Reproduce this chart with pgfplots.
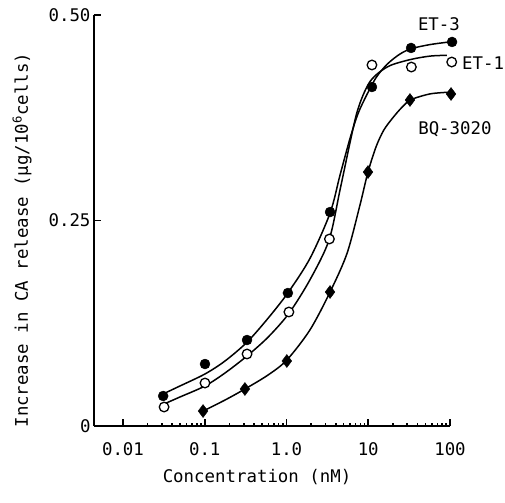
\documentclass[border=0pt]{standalone}
\usepackage{fontspec}
\setmainfont{DejaVu Sans Mono}
\usepackage{pgfplots}
\pgfplotsset{compat=1.18}
\newcommand\cf{\fontsize{17.4bp}{20bp}\selectfont}
\begin{document}
\begin{tikzpicture}[font=\cf]
\begin{axis}[
  at={(0,0)}, anchor=south west,
  scale only axis, width=356bp, height=411bp,
  xmode=log, xmin=0.004418, xmax=100, ymin=0, ymax=0.5,
  axis x line=bottom, axis y line=left,
  axis line style={-, line width=1.8bp},
  every tick/.style={black, line width=1.6bp},
  tick align=inside, major tick length=7bp,
  xtick={0.01,0.1,1,10,100}, xticklabels={0.01,0.1,1.0,10,100},
  minor xtick={}, minor ytick={},
  ytick={0,0.25,0.5}, yticklabels={0,0.25,0.50},
  tick label style={font=\cf},
  xticklabel style={yshift=-13bp},
  label style={font=\cf},
  xlabel={Concentration (nM)},
  ylabel={Increase in CA release (μg/10\textsuperscript{6}cells)},
  xlabel style={at={(axis description cs:0.458,-0.125)}, anchor=center},
  ylabel style={at={(axis description cs:-0.202,0.452)}, anchor=center},
  clip=false,
]
% fitted curves (traced)
\addplot[black, line width=1.5bp, smooth, mark=none] coordinates {
(0.0308,0.0389) (0.0498,0.0487) (0.1007,0.0633) (0.177,0.0791) (0.329,0.102)
(0.594,0.131) (1.04,0.162) (1.94,0.204) (3.41,0.259) (4.51,0.305) (5.99,0.350)
(7.5,0.380) (9.5,0.402) (12.5,0.424) (17,0.440) (24,0.452) (33.4,0.459) (56.9,0.464) (94.6,0.467)};
\addplot[black, line width=1.5bp, smooth, mark=none] coordinates {
(0.0318,0.0268) (0.0498,0.0353) (0.1007,0.0487) (0.177,0.0645) (0.329,0.0852)
(0.594,0.108) (1.07,0.137) (1.94,0.178) (3.31,0.226) (4.51,0.287) (5.99,0.345)
(7.2,0.380) (8.6,0.402) (10.5,0.419) (13.5,0.430) (19,0.439) (33.4,0.446) (56.9,0.450) (91.8,0.451)};
\addplot[black, line width=1.5bp, smooth, mark=none] coordinates {
(0.0953,0.0182) (0.177,0.0316) (0.310,0.045) (0.594,0.062) (1.01,0.0803)
(1.94,0.117) (3.41,0.163) (5.50,0.210) (7.93,0.269) (9.93,0.309) (12.5,0.340)
(15.5,0.360) (20,0.375) (26,0.388) (33.4,0.397) (56.9,0.404) (94.6,0.406)};
% data points
\addplot[only marks, mark=*, mark size=5bp, mark options={fill=black, draw=black}] coordinates {
(0.031,0.0365) (0.1007,0.0754) (0.329,0.1046) (1.04,0.1618) (3.41,0.2603)
(11.1,0.4124) (33.4,0.4599) (106,0.4672)};
\addplot[only marks, mark=*, mark size=4.8bp, mark options={fill=white, draw=black, line width=1.3bp}] coordinates {
(0.0318,0.0231) (0.1007,0.0523) (0.329,0.0876) (1.07,0.1387) (3.35,0.2275)
(11.1,0.4392) (33.7,0.4367) (105,0.4428)};
\addplot[only marks, mark=diamond*, mark size=6.5bp, mark options={fill=black, draw=black}] coordinates {
(0.0953,0.0182) (0.310,0.045) (1.01,0.0791) (3.41,0.163) (9.93,0.309)
(32.4,0.3966) (103,0.4039)};
\node[font=\cf] at (axis cs:73.3,0.489) {ET-3};
\node[font=\cf, anchor=west, inner sep=0pt] at (axis cs:140,0.4416) {ET-1};
\node[font=\cf] at (axis cs:115,0.361) {BQ-3020};
\end{axis}
\pgfresetboundingbox
\path (-94bp,-77bp) rectangle (411bp,426bp);
\end{tikzpicture}
\end{document}
